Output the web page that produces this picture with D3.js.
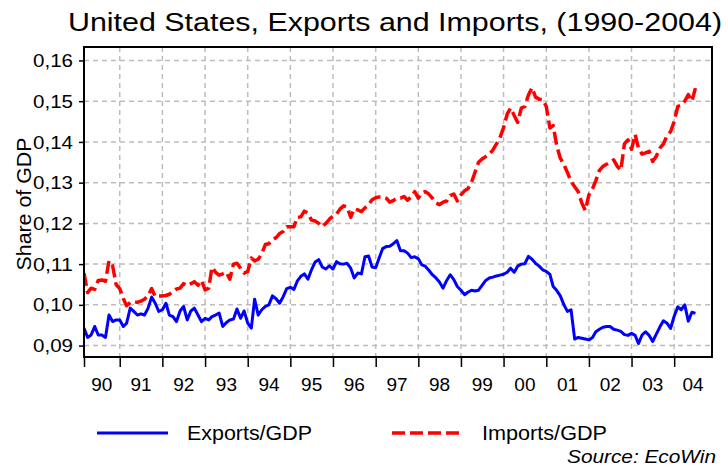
<!DOCTYPE html>
<html><head><meta charset="utf-8">
<script src="https://cdn.jsdelivr.net/npm/d3@7"></script>
<style>
body{margin:0;background:#fff}
svg{display:block}
text{font-family:"Liberation Sans",Arial,Helvetica,sans-serif;fill:#000}
</style>
</head><body>
<svg id="chart" width="728" height="467"></svg>
<script>
// ---- data (monthly, starting March 1990) ----
const startYear = 1990;
const startMonth = 2; // March (0-based)
const exportsGDP = [
0.0943,0.0920,0.0926,0.0947,0.0926,0.0926,0.0920,0.0975,0.0959,0.0963,
0.0963,0.0947,0.0955,0.0992,0.0984,0.0975,0.0978,0.0975,0.0992,0.1019,
0.1004,0.0984,0.0988,0.1004,0.0975,0.0971,0.0959,0.0985,0.0996,0.0963,
0.0985,0.0992,0.0975,0.0959,0.0967,0.0963,0.0971,0.0975,0.0980,0.0947,
0.0956,0.0963,0.0965,0.0990,0.0967,0.0985,0.0955,0.0943,0.1014,0.0975,
0.0988,0.0996,0.1000,0.1022,0.1015,0.1004,0.1020,0.1040,0.1043,0.1038,
0.1058,0.1070,0.1076,0.1063,0.1086,0.1105,0.1111,0.1093,0.1088,0.1096,
0.1088,0.1106,0.1101,0.1100,0.1102,0.1090,0.1066,0.1078,0.1076,0.1118,
0.1120,0.1093,0.1091,0.1116,0.1138,0.1143,0.1144,0.1150,0.1158,0.1133,
0.1133,0.1127,0.1116,0.1118,0.1113,0.1098,0.1095,0.1085,0.1074,0.1066,
0.1056,0.1041,0.1060,0.1074,0.1062,0.1045,0.1036,0.1025,0.1031,0.1036,
0.1034,0.1036,0.1048,0.1060,0.1066,0.1068,0.1071,0.1073,0.1075,0.1080,
0.1090,0.1080,0.1095,0.1100,0.1101,0.1119,0.1112,0.1102,0.1095,0.1086,
0.1082,0.1075,0.1045,0.1035,0.1022,0.1000,0.0984,0.0988,0.0916,0.0920,
0.0918,0.0916,0.0914,0.0920,0.0934,0.0940,0.0945,0.0947,0.0947,0.0940,
0.0938,0.0935,0.0927,0.0925,0.0930,0.0925,0.0905,0.0926,0.0934,0.0925,
0.0910,0.0928,0.0946,0.0961,0.0955,0.0942,0.0972,0.0995,0.0988,0.1000,
0.0960,0.0982,0.0979
];
const importsGDP = [
0.1078,0.1030,0.1041,0.1038,0.1060,0.1061,0.1058,0.1108,0.1096,0.1050,
0.1040,0.1015,0.0998,0.1006,0.1008,0.1006,0.1009,0.1014,0.1022,0.1040,
0.1020,0.1022,0.1022,0.1023,0.1026,0.1033,0.1039,0.1041,0.1052,0.1047,
0.1052,0.1057,0.1048,0.1060,0.1037,0.1041,0.1092,0.1080,0.1073,0.1076,
0.1080,0.1063,0.1100,0.1102,0.1090,0.1078,0.1082,0.1115,0.1108,0.1112,
0.1125,0.1148,0.1150,0.1160,0.1165,0.1175,0.1180,0.1192,0.1192,0.1192,
0.1215,0.1216,0.1230,0.1225,0.1208,0.1206,0.1200,0.1192,0.1200,0.1210,
0.1218,0.1223,0.1235,0.1243,0.1240,0.1215,0.1236,0.1233,0.1229,0.1238,
0.1246,0.1258,0.1263,0.1265,0.1265,0.1262,0.1252,0.1256,0.1262,0.1262,
0.1266,0.1257,0.1265,0.1278,0.1262,0.1275,0.1278,0.1272,0.1262,0.1250,
0.1246,0.1252,0.1255,0.1268,0.1272,0.1255,0.1270,0.1280,0.1285,0.1300,
0.1325,0.1350,0.1358,0.1364,0.1370,0.1380,0.1395,0.1410,0.1435,0.1468,
0.1483,0.1465,0.1448,0.1483,0.1487,0.1515,0.1533,0.1510,0.1505,0.1504,
0.1487,0.1434,0.1440,0.1390,0.1360,0.1344,0.1325,0.1303,0.1290,0.1278,
0.1250,0.1232,0.1270,0.1285,0.1305,0.1330,0.1340,0.1345,0.1350,0.1356,
0.1340,0.1330,0.1395,0.1405,0.1382,0.1418,0.1385,0.1370,0.1373,0.1377,
0.1352,0.1365,0.1385,0.1395,0.1415,0.1425,0.1450,0.1487,0.1490,0.1500,
0.1516,0.1500,0.1532
];
const yTicks = [0.09, 0.10, 0.11, 0.12, 0.13, 0.14, 0.15, 0.16];
const yearLabels = ["90","91","92","93","94","95","96","97","98","99","00","01","02","03","04"];
const seriesNames = ["Exports/GDP", "Imports/GDP"];
const titleText = "United States, Exports and Imports, (1990-2004)";
const yAxisTitle = "Share of GDP";
const sourceText = "Source: EcoWin";

// ---- layout ----
const W = 728, H = 467;
const L = 84, R = 712, T = 47, B = 357;
const svg = d3.select("#chart");

const dates = exportsGDP.map((_, i) => new Date(startYear, startMonth + i, 1));
const x = d3.scaleTime()
  .domain([new Date(1990, 2, 1), new Date(2004, 10, 20)])
  .range([L, R]);
const y = d3.scaleLinear().domain([0.0872, 0.1633]).range([B, T]);

const yearStarts = d3.range(1991, 2005).map(yr => new Date(yr, 0, 1));

// title
svg.append("text").attr("x", 68).attr("y", 31)
  .attr("font-size", 25).attr("textLength", 654).attr("lengthAdjust", "spacingAndGlyphs")
  .text(titleText);

// grid
const grid = svg.append("g").attr("stroke", "#bdbdbd").attr("stroke-width", 1.5)
  .attr("stroke-dasharray", "5,4");
grid.selectAll("line.h").data(yTicks).join("line")
  .attr("x1", L).attr("x2", R).attr("y1", d => y(d)).attr("y2", d => y(d));
grid.selectAll("line.v").data(yearStarts).join("line")
  .attr("y1", T).attr("y2", B).attr("x1", d => x(d)).attr("x2", d => x(d));

// clip
svg.append("clipPath").attr("id", "clip").append("rect")
  .attr("x", L).attr("y", T).attr("width", R - L).attr("height", B - T);

const line = d3.line().x((d, i) => x(dates[i])).y(d => y(d));
const plot = svg.append("g").attr("clip-path", "url(#clip)");
plot.append("path").datum(exportsGDP).attr("d", line)
  .attr("fill", "none").attr("stroke", "#0000ff").attr("stroke-width", 3)
  .attr("stroke-linejoin", "round");
plot.append("path").datum(importsGDP).attr("d", line)
  .attr("fill", "none").attr("stroke", "#ff0000").attr("stroke-width", 3.5)
  .attr("stroke-dasharray", "13,5").attr("stroke-linejoin", "round");

// frame
svg.append("rect").attr("x", L).attr("y", T).attr("width", R - L).attr("height", B - T)
  .attr("fill", "none").attr("stroke", "#000").attr("stroke-width", 2);

// y axis
const fmt = d => d3.format(".2f")(d).replace(".", ",");
const yAxis = svg.append("g").attr("transform", `translate(${L},0)`)
  .call(d3.axisLeft(y).tickValues(yTicks).tickSize(5).tickPadding(6).tickFormat(fmt));
yAxis.select(".domain").remove();
yAxis.selectAll(".tick line").attr("stroke", "#000").attr("stroke-width", 1.5);
yAxis.selectAll(".tick text").attr("font-size", 19)
  .attr("font-family", "Liberation Sans, Arial, sans-serif").attr("fill", "#000")
  .attr("textLength", 40).attr("lengthAdjust", "spacingAndGlyphs");

// x axis
const xAxis = svg.append("g").attr("transform", `translate(0,${B})`)
  .call(d3.axisBottom(x).tickValues([x.domain()[0], ...yearStarts]).tickSize(10).tickFormat(""));
xAxis.select(".domain").remove();
xAxis.selectAll(".tick line").attr("stroke", "#000").attr("stroke-width", 1.5);

// year labels centered in the visible part of each year
const [d0, d1] = x.domain();
svg.append("g").selectAll("text").data(yearLabels).join("text")
  .attr("x", (d, i) => {
    const yr = 1990 + i;
    const a = Math.max(x(new Date(yr, 0, 1)), x(d0));
    const b = Math.min(x(new Date(yr + 1, 0, 1)), x(d1));
    return (a + b) / 2;
  })
  .attr("y", 391).attr("text-anchor", "middle").attr("font-size", 19).text(d => d);

// y axis title
svg.append("text").attr("transform", "translate(31,204) rotate(-90)")
  .attr("text-anchor", "middle").attr("font-size", 20)
  .attr("textLength", 133).attr("lengthAdjust", "spacingAndGlyphs").text(yAxisTitle);

// legend
const lg = svg.append("g");
lg.append("line").attr("x1", 97).attr("x2", 168).attr("y1", 433).attr("y2", 433)
  .attr("stroke", "#0000ff").attr("stroke-width", 3);
lg.append("text").attr("x", 187).attr("y", 440).attr("font-size", 20)
  .attr("textLength", 125).attr("lengthAdjust", "spacingAndGlyphs").text(seriesNames[0]);
lg.append("line").attr("x1", 392).attr("x2", 463).attr("y1", 433).attr("y2", 433)
  .attr("stroke", "#ff0000").attr("stroke-width", 3.5).attr("stroke-dasharray", "13,5");
lg.append("text").attr("x", 482).attr("y", 440).attr("font-size", 20)
  .attr("textLength", 125).attr("lengthAdjust", "spacingAndGlyphs").text(seriesNames[1]);

// source
svg.append("text").attr("x", 567).attr("y", 463)
  .attr("font-size", 18).attr("font-style", "italic")
  .attr("textLength", 149).attr("lengthAdjust", "spacingAndGlyphs").text(sourceText);
</script>
</body></html>
